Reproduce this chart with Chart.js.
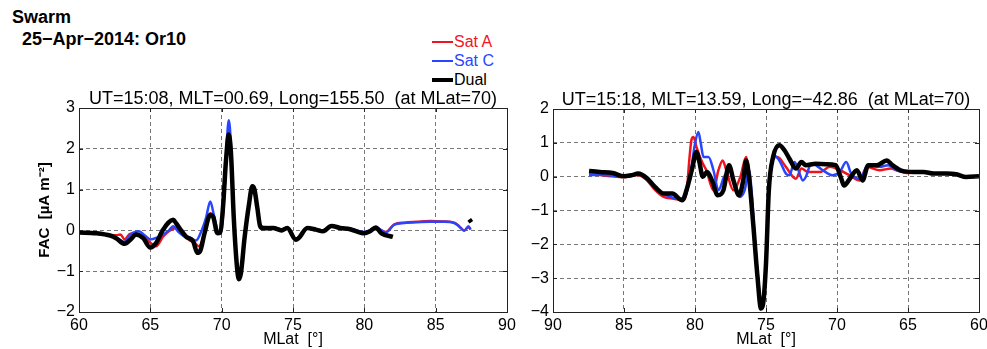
<!DOCTYPE html>
<html>
<head>
<meta charset="utf-8">
<script src="https://cdn.jsdelivr.net/npm/chart.js@4.4.1/dist/chart.umd.min.js"></script>
<style>
  body { margin: 0; background: #fff; width: 987px; height: 349px; position: relative; overflow: hidden; font-family: "Liberation Sans", Arial, sans-serif; }
  .hd { position: absolute; font-weight: bold; font-size: 18px; line-height: 18px; color: #000; white-space: nowrap; }
  .leg { position: absolute; left: 432px; font-size: 16px; line-height: 18px; display: flex; align-items: center; white-space: nowrap; }
  .leg i { display: inline-block; width: 21px; margin-right: 1px; }
  canvas { position: absolute; top: 0; }
</style>
</head>
<body>
<div class="hd" style="left:12px;top:8px">Swarm</div>
<div class="hd" style="left:22px;top:30px">25−Apr−2014: Or10</div>
<div class="leg" style="top:33px;color:rgb(240,20,30)"><i style="height:2px;background:rgb(240,20,30)"></i>Sat A</div>
<div class="leg" style="top:52px;color:rgb(40,70,255)"><i style="height:2px;background:rgb(40,70,255)"></i>Sat C</div>
<div class="leg" style="top:71px;color:#000"><i style="height:4px;background:#000"></i>Dual</div>
<canvas id="left" width="530" height="349" style="left:0"></canvas>
<canvas id="right" width="467" height="349" style="left:520px"></canvas>
<script>
// ---- orbit 1 (UT 15:08) ----
const leftDualLat = [60, 61.2, 62.2, 62.6, 63.2, 63.6, 64.0, 64.5, 65.0, 65.4, 65.9, 66.6, 66.8, 67.2, 67.5, 68.0, 68.3, 68.5, 68.8, 69.2, 69.4, 69.7, 69.9, 70.1, 70.3, 70.5, 70.65, 70.85, 71.05, 71.2, 71.35, 71.6, 71.9, 72.15, 72.3, 72.5, 72.7, 72.9, 73.6, 74.2, 74.6, 75.2, 75.4, 76.0, 76.6, 77.1, 77.7, 78.3, 79.0, 80.0, 80.4, 80.8, 81.2, 82.0, 84.5, 87.35, 87.5];
const leftDualFac = [-0.05, -0.07, -0.13, -0.19, -0.33, -0.23, -0.1, -0.19, -0.42, -0.31, 0.02, 0.26, 0.18, -0.02, -0.15, -0.27, -0.55, -0.5, -0.07, 0.38, 0.34, -0.07, -0.05, 0.6, 1.7, 2.35, 1.9, 0.3, -0.8, -1.2, -1.05, -0.2, 0.6, 1.08, 1.0, 0.55, 0.1, 0.05, 0.06, 0.0, 0.06, -0.23, -0.19, 0.06, 0.02, -0.02, 0.11, 0.06, 0.03, -0.07, -0.02, 0.07, -0.07, -0.16, null, 0.27, 0.2];

const leftALat = [60, 61, 62, 62.6, 62.9, 63.2, 63.6, 64.0, 64.5, 65.0, 65.4, 65.9, 66.3, 66.8, 67.3, 67.7, 68.1, 68.4, 68.8, 69.2, 69.45, 69.7, 70.0, 70.2, 70.35, 70.5, 70.65, 70.85, 71.05, 71.2, 71.35, 71.6, 71.9, 72.15, 72.3, 72.5, 72.7, 72.9, 73.6, 74.2, 74.6, 75.2, 75.5, 76.0, 76.6, 77.1, 77.7, 78.3, 79.0, 80.0, 80.4, 80.8, 81.2, 81.5, 82.1, 82.8, 83.7, 84.6, 85.6, 86.3, 86.6, 87.0, 87.3, 87.45];
const leftAFac = [-0.04, -0.06, -0.1, -0.12, -0.1, -0.22, -0.08, -0.12, -0.15, -0.3, -0.39, -0.15, -0.02, 0.06, -0.07, -0.23, -0.3, -0.39, -0.07, 0.42, 0.3, -0.07, 0.0, 1.0, 1.9, 2.45, 2.0, 0.3, -0.8, -1.15, -1.0, -0.2, 0.6, 1.05, 0.95, 0.55, 0.12, 0.09, 0.08, 0.03, 0.07, -0.2, -0.15, 0.06, 0.03, 0.0, 0.12, 0.07, 0.04, -0.05, 0.0, 0.08, 0.0, -0.04, 0.15, 0.19, 0.21, 0.23, 0.22, 0.19, 0.12, 0.0, 0.08, 0.03];

const leftCLat = [60, 61, 62, 62.7, 63.2, 63.6, 64.2, 64.6, 65.0, 65.5, 65.9, 66.3, 66.6, 67.0, 67.4, 67.8, 68.2, 68.6, 68.9, 69.2, 69.5, 69.8, 70.0, 70.2, 70.35, 70.5, 70.65, 70.85, 71.05, 71.2, 71.35, 71.6, 71.9, 72.15, 72.3, 72.5, 72.7, 72.9, 73.6, 74.2, 74.6, 75.2, 75.5, 76.0, 76.6, 77.1, 77.7, 78.3, 79.0, 80.0, 80.4, 80.8, 81.2, 81.5, 82.1, 82.8, 83.7, 84.6, 85.6, 86.3, 86.6, 87.0, 87.3, 87.45];
const leftCFac = [-0.05, -0.06, -0.12, -0.2, -0.28, -0.1, -0.02, -0.12, -0.22, -0.17, -0.1, 0.0, 0.1, -0.05, -0.15, -0.18, -0.25, 0.0, 0.3, 0.71, 0.3, -0.07, 0.1, 1.0, 2.1, 2.7, 2.1, 0.35, -0.8, -1.15, -1.0, -0.2, 0.6, 1.05, 0.95, 0.55, 0.12, 0.08, 0.07, 0.02, 0.07, -0.2, -0.15, 0.06, 0.03, 0.0, 0.1, 0.07, 0.04, -0.04, 0.0, 0.08, 0.0, -0.05, 0.14, 0.18, 0.2, 0.21, 0.21, 0.18, 0.11, -0.01, 0.1, 0.02];

// ---- orbit 2 (UT 15:18) ----
const rightDualLat = [87.46, 86.7, 85.8, 85.0, 84.5, 84.0, 83.4, 82.8, 82.2, 81.6, 80.9, 80.6, 80.2, 79.9, 79.7, 79.45, 79.15, 78.8, 78.4, 78.0, 77.6, 77.3, 76.9, 76.6, 76.4, 76.2, 75.9, 75.6, 75.35, 75.2, 75.0, 74.8, 74.5, 74.06, 73.7, 73.35, 72.9, 72.5, 72.2, 71.5, 70.8, 70.1, 69.7, 69.5, 69.1, 68.6, 68.2, 67.8, 67.2, 66.5, 66.1, 65.4, 64.6, 63.9, 63.2, 62.3, 61.6, 60.9, 60.0];
const rightDualFac = [0.17, 0.14, 0.11, 0.01, 0.04, 0.09, -0.04, -0.31, -0.5, -0.5, -0.7, -0.4, 0.24, 0.73, 0.45, 0.0, 0.14, -0.11, -0.55, -0.4, 0.34, -0.1, -0.55, -0.1, 0.48, 0.0, -1.4, -2.96, -3.9, -3.75, -2.57, -0.4, 0.58, 0.93, 0.78, 0.53, 0.24, 0.43, 0.34, 0.38, 0.37, 0.34, -0.06, -0.26, -0.06, 0.19, -0.11, 0.34, 0.34, 0.48, 0.34, 0.17, 0.14, 0.14, 0.09, 0.09, 0.07, -0.01, 0.01];

const rightALat = [87.46, 86.7, 85.8, 85.0, 84.5, 84.0, 83.4, 82.8, 82.2, 81.5, 80.9, 80.6, 80.4, 80.24, 80.1, 79.9, 79.5, 79.2, 78.7, 78.35, 78.05, 77.8, 77.3, 76.8, 76.4, 76.15, 75.9, 75.6, 75.35, 75.2, 75.0, 74.8, 74.5, 74.2, 73.6, 72.9, 72.5, 72.05, 71.2, 70.5, 69.8, 69.1, 68.4, 67.9, 67.0, 66.2, 65.8, 65.1, 64.5];
const rightAFac = [0.07, 0.05, 0.01, -0.01, 0.02, 0.05, -0.1, -0.4, -0.6, -0.65, -0.7, -0.5, 0.5, 1.1, 1.17, 0.88, 0.43, 0.19, -0.4, 0.19, 0.48, 0.19, -0.4, 0.0, 0.58, 0.0, -1.3, -2.8, -3.7, -3.6, -2.5, -0.5, 0.58, 0.58, 0.29, -0.06, 0.24, 0.14, 0.14, 0.29, 0.19, 0.04, -0.11, 0.29, 0.19, 0.24, 0.19, 0.11, 0.12];

const rightCLat = [87.46, 86.7, 85.8, 85.0, 84.5, 84.0, 83.4, 82.8, 82.0, 81.05, 80.7, 80.35, 80.0, 79.76, 79.6, 79.4, 79.05, 78.7, 78.35, 77.95, 77.6, 77.2, 76.85, 76.5, 76.2, 76.0, 75.8, 75.55, 75.35, 75.15, 74.95, 74.8, 74.5, 74.06, 73.6, 73.35, 73.0, 72.8, 72.4, 72.2, 71.8, 71.5, 71.0, 70.3, 69.8, 69.35, 69.0, 68.4, 67.8, 67.0, 66.4, 65.8, 65.1, 64.5];
const rightCFac = [0.04, 0.06, 0.03, 0.0, 0.03, 0.07, -0.06, -0.3, -0.55, -0.65, -0.6, 0.0, 0.97, 1.32, 1.0, 0.58, 0.58, 0.19, -0.4, 0.0, 0.19, -0.2, -0.6, -0.4, 0.2, -0.5, -1.8, -3.2, -3.75, -3.5, -2.3, -0.5, 0.63, 0.48, 0.09, 0.04, 0.43, 0.29, -0.11, -0.01, 0.4, 0.34, 0.19, 0.04, 0.14, 0.43, 0.09, -0.06, 0.34, 0.29, 0.34, 0.19, 0.14, 0.12];

const latTicks = [60, 65, 70, 75, 80, 85, 90];

const RED = 'rgb(240,20,30)', BLUE = 'rgb(40,70,255)';
const FONT = '"Liberation Sans", Arial, sans-serif';

function pts(xs, ys) { return xs.map((x, i) => ({ x: x, y: ys[i] })); }
function minus(v) { return v < 0 ? '\u2212' + Math.abs(v) : String(v); }

const boxPlugin = {
  id: 'box',
  afterDraw(chart) {
    const a = chart.chartArea, c = chart.ctx;
    const xs = chart.scales.x, ys = chart.scales.y;
    c.save();
    c.setLineDash([]);
    c.strokeStyle = '#222';
    c.lineWidth = 1;
    c.strokeRect(Math.round(a.left) + 0.5, Math.round(a.top) + 0.5, Math.round(a.right - a.left), Math.round(a.bottom - a.top));
    c.beginPath();
    xs.ticks.forEach(t => {
      const px = Math.round(xs.getPixelForValue(t.value)) + 0.5;
      c.moveTo(px, a.bottom); c.lineTo(px, a.bottom - 4);
      c.moveTo(px, a.top); c.lineTo(px, a.top + 4);
    });
    ys.ticks.forEach(t => {
      const py = Math.round(ys.getPixelForValue(t.value)) + 0.5;
      c.moveTo(a.left, py); c.lineTo(a.left + 4, py);
      c.moveTo(a.right, py); c.lineTo(a.right - 4, py);
    });
    c.stroke();
    c.restore();
  }
};

function makeChart(id, cfg) {
  const ds = (data, color, w, order) => ({
    data: data, borderColor: color, borderWidth: w, pointRadius: 0,
    cubicInterpolationMode: 'monotone', spanGaps: false, order: order
  });
  return new Chart(document.getElementById(id), {
    type: 'line',
    data: {
      datasets: [
        ds(pts(cfg.dualLat, cfg.dualFac), '#000', 4.5, 0),
        ds(pts(cfg.cLat, cfg.cFac), BLUE, 2.5, 1),
        ds(pts(cfg.aLat, cfg.aFac), RED, 2.5, 2)
      ]
    },
    options: {
      responsive: false,
      animation: false,
      layout: { padding: { left: 0, right: cfg.padRight, top: 0, bottom: 0 } },
      plugins: {
        legend: { display: false },
        tooltip: { enabled: false },
        title: {
          display: true, text: cfg.title, fullSize: false, color: '#000',
          font: { family: FONT, size: 18, weight: 'normal', lineHeight: 1 },
          padding: { top: cfg.titleTop, bottom: 0 }
        }
      },
      scales: {
        x: {
          type: 'linear', min: 60, max: 90, reverse: cfg.reverse,
          afterFit: s => { s.height = 37; },
          afterBuildTicks: s => { s.ticks = latTicks.map(v => ({ value: v })); },
          grid: { color: '#777', lineWidth: 1, drawTicks: false },
          border: { display: false, dash: [4, 3] },
          ticks: { color: '#000', padding: 4, maxRotation: 0, font: { family: FONT, size: 16 } },
          title: { display: true, text: 'MLat  [\u00b0]', color: '#000', padding: { top: 0, bottom: 0 }, font: { family: FONT, size: 16 } }
        },
        y: {
          type: 'linear', min: cfg.yMin, max: cfg.yMax,
          afterFit: s => { s.width = cfg.yWidth; },
          afterBuildTicks: s => { s.ticks = cfg.yTicks.map(v => ({ value: v })); },
          grid: { color: '#777', lineWidth: 1, drawTicks: false },
          border: { display: false, dash: [4, 3] },
          ticks: { color: '#000', padding: 4, callback: minus, font: { family: FONT, size: 16 } },
          title: {
            display: cfg.yTitle !== '', text: cfg.yTitle, color: '#000',
            padding: { top: 36, bottom: 0 }, font: { family: FONT, size: 15, weight: 'bold' }
          }
        }
      }
    },
    plugins: [boxPlugin]
  });
}

makeChart('left', {
  title: 'UT=15:08, MLT=00.69, Long=155.50  (at MLat=70)',
  dualLat: leftDualLat, dualFac: leftDualFac,
  aLat: leftALat, aFac: leftAFac, cLat: leftCLat, cFac: leftCFac,
  reverse: false, yMin: -2, yMax: 3, yTicks: [-2, -1, 0, 1, 2, 3],
  yWidth: 79, padRight: 23, titleTop: 90, yTitle: 'FAC  [\u00b5A m\u207b\u00b2]'
});

makeChart('right', {
  title: 'UT=15:18, MLT=13.59, Long=\u221242.86  (at MLat=70)',
  dualLat: rightDualLat, dualFac: rightDualFac,
  aLat: rightALat, aFac: rightAFac, cLat: rightCLat, cFac: rightCFac,
  reverse: true, yMin: -4, yMax: 2, yTicks: [-4, -3, -2, -1, 0, 1, 2],
  yWidth: 33, padRight: 8, titleTop: 91, yTitle: ''
});
</script>
</body>
</html>
